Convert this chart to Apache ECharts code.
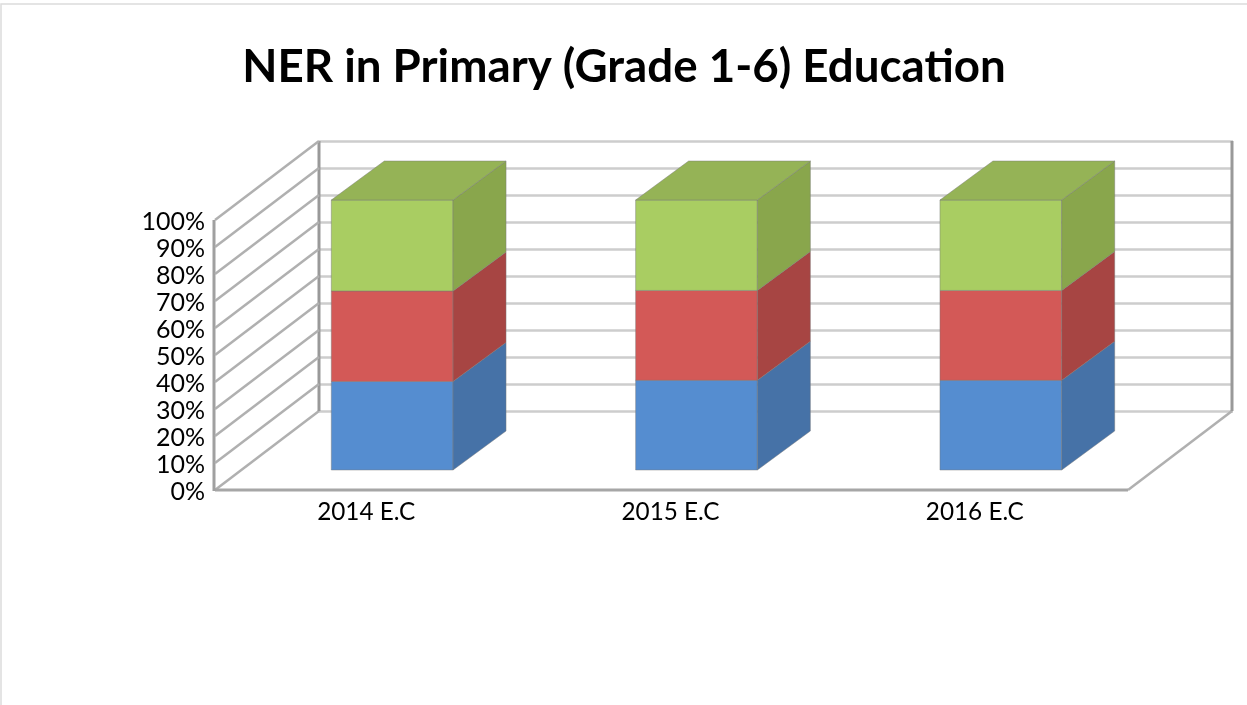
<!DOCTYPE html>
<html>
<head>
<meta charset="utf-8">
<title>NER in Primary (Grade 1-6) Education</title>
<script src="https://cdn.jsdelivr.net/npm/echarts@6/dist/echarts.min.js"></script>
<style>
	html, body { margin: 0; padding: 0; background: #fff; }
	#main { width: 1247px; height: 705px; }
</style>
</head>
<body>
<div id="main"></div>
<script>
const chartTitle = 'NER in Primary (Grade 1-6) Education';
const years = ['2014 E.C', '2015 E.C', '2016 E.C'];
const percentTicks = [0, 10, 20, 30, 40, 50, 60, 70, 80, 90, 100];
// share of each stack
const blueShare = [32.8, 33.2, 33.2];
const redShare = [33.5, 33.3, 33.3];
const greenShare = [33.7, 33.5, 33.5];

const wallDepth = [104, -79];
const barFront = [25, -20];
const barDepth = [53, -39];
const barWidth = 0.4;

const labelFont = 'Lato, "Open Sans", sans-serif';

function move(p, d) {
	return [p[0] + d[0], p[1] + d[1]];
}

function line(a, b, color, width) {
	return {
		type: 'line',
		shape: { x1: a[0], y1: a[1], x2: b[0], y2: b[1] },
		style: { stroke: color, lineWidth: width }
	};
}

// side walls and floor, on the front plane's scales
function renderWalls(params, api) {
	const band = api.size([1, 0])[0];
	const v = api.value(0);
	const start = api.coord([0, v]);
	start[0] -= band / 2;
	const children = [line(start, move(start, wallDepth), '#b0b0b0', 2.5)];
	if (v === 0) {
		const end = api.coord([years.length - 1, 0]);
		end[0] += band / 2;
		const topLeft = api.coord([0, 100]);
		topLeft[0] -= band / 2;
		children.push(line(start, end, '#a6a6a6', 3));
		children.push(line(end, move(end, wallDepth), '#b0b0b0', 2.5));
		children.push(line([start[0] - 1, start[1] + 1], [topLeft[0] - 1, topLeft[1]], '#a0a0a0', 3));
		children.push(line(move(start, wallDepth), move(topLeft, wallDepth), '#999999', 3));
		children.push(line(move(end, wallDepth), [end[0] + wallDepth[0], topLeft[1] + wallDepth[1]], '#999999', 3));
	}
	return { type: 'group', children: children };
}

function stackSeries(name, shares, below, front, side, top) {
	return {
		name: name,
		type: 'custom',
		coordinateSystem: 'cartesian2d',
		xAxisIndex: 0,
		yAxisIndex: 0,
		silent: true,
		z: 5,
		data: shares.map(function (s, i) {
			return [i, below[i], below[i] + s];
		}),
		renderItem: function (params, api) {
			const half = api.size([1, 0])[0] * barWidth / 2;
			const low = move(api.coord([api.value(0), api.value(1)]), barFront);
			const high = move(api.coord([api.value(0), api.value(2)]), barFront);
			const a = [low[0] - half, low[1]];
			const b = [low[0] + half, low[1]];
			const c = [high[0] + half, high[1]];
			const d = [high[0] - half, high[1]];
			const edge = 'rgba(120,120,120,0.45)';
			const children = [
				{
					type: 'polygon',
					shape: { points: [a, b, c, d] },
					style: { fill: front, stroke: edge, lineWidth: 1 }
				},
				{
					type: 'polygon',
					shape: { points: [b, move(b, barDepth), move(c, barDepth), c] },
					style: { fill: side, stroke: edge, lineWidth: 1 }
				}
			];
			if (top) {
				children.push({
					type: 'polygon',
					shape: { points: [d, c, move(c, barDepth), move(d, barDepth)] },
					style: { fill: top, stroke: edge, lineWidth: 1 }
				});
			}
			return { type: 'group', children: children };
		}
	};
}

const belowRed = blueShare.slice();
const belowGreen = blueShare.map(function (v, i) { return v + redShare[i]; });
const belowBlue = blueShare.map(function () { return 0; });

const myChart = echarts.init(document.getElementById('main'));
myChart.setOption({
	animation: false,
	backgroundColor: '#fff',
	title: {
		text: chartTitle,
		left: 619,
		top: 39,
		textAlign: 'center',
		textStyle: { fontFamily: labelFont, fontSize: 45.7, fontWeight: 'bold', color: '#000' }
	},
	graphic: [
		{
			type: 'polyline',
			silent: true,
			shape: { points: [[1, 705], [1, 4], [1247, 4]] },
			style: { fill: null, stroke: '#dcdcdc', lineWidth: 1.5 }
		}
	],
	grid: [
		{ left: 215, top: 220, width: 913, height: 270 },
		{ left: 319, top: 141.5, width: 914, height: 269.5 }
	],
	xAxis: [
		{
			type: 'category',
			gridIndex: 0,
			data: years,
			axisLine: { show: false },
			axisTick: { show: false },
			axisLabel: { margin: 10, padding: [0, 2, 0, 0], fontFamily: labelFont, fontSize: 24.3, color: '#000' }
		},
		{
			type: 'category',
			gridIndex: 1,
			data: years,
			axisLine: { show: false },
			axisTick: { show: false },
			axisLabel: { show: false }
		}
	],
	yAxis: [
		{
			type: 'value',
			gridIndex: 0,
			min: 0,
			max: 100,
			interval: 10,
			axisLine: { show: false },
			axisTick: { show: false },
			splitLine: { show: false },
			axisLabel: { margin: 10, verticalAlign: 'top', lineHeight: 4, formatter: '{value}%', fontFamily: labelFont, fontSize: 25, color: '#000' }
		},
		{
			type: 'value',
			gridIndex: 1,
			min: 0,
			max: 100,
			interval: 10,
			axisLine: { show: false },
			axisTick: { show: false },
			axisLabel: { show: false },
			splitLine: { show: true, lineStyle: { color: '#cdcdcd', width: 2.5 } }
		}
	],
	series: [
		{
			name: 'walls',
			type: 'custom',
			coordinateSystem: 'cartesian2d',
			xAxisIndex: 0,
			yAxisIndex: 0,
			silent: true,
			z: 3,
			data: percentTicks.map(function (t) { return [t]; }),
			encode: { y: 0 },
			renderItem: renderWalls
		},
		stackSeries('blue', blueShare, belowBlue, '#558dd0', '#4672a7', null),
		stackSeries('red', redShare, belowRed, '#d35957', '#a74543', null),
		stackSeries('green', greenShare, belowGreen, '#a9cd62', '#89a64c', '#95b356')
	]
});
</script>
</body>
</html>
